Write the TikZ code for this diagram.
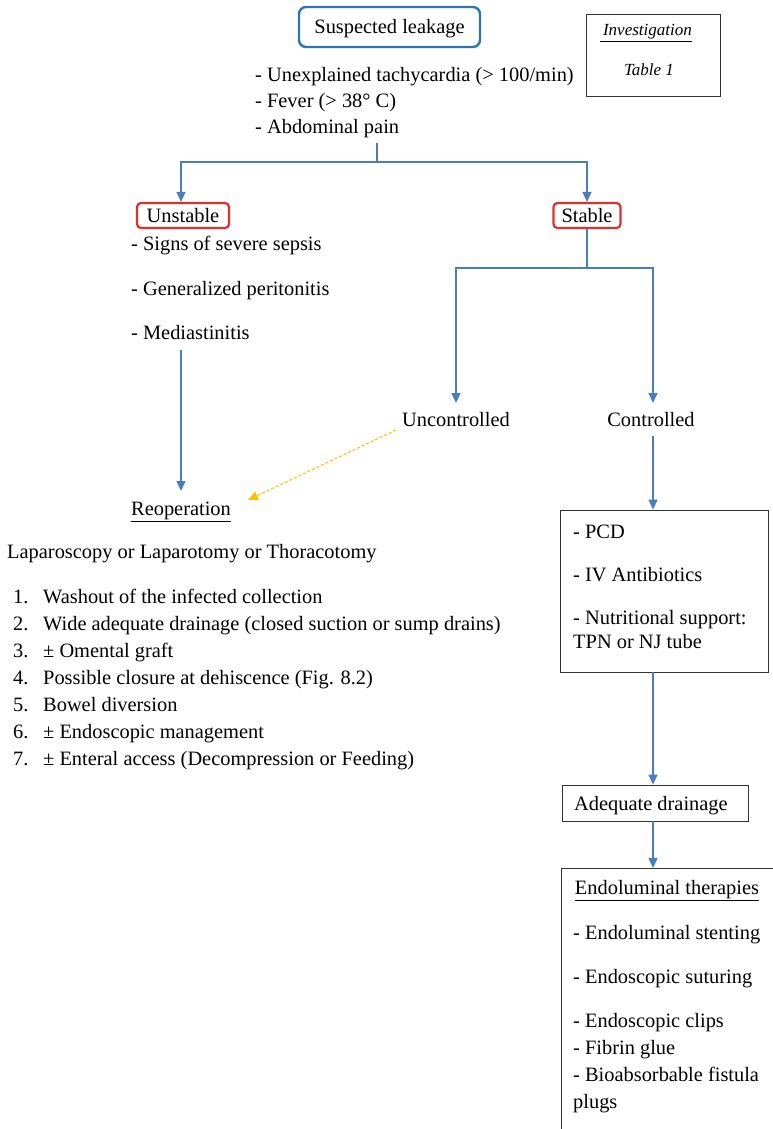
\documentclass[tikz,border=0pt]{standalone}
\usepackage{fontspec}
\setmainfont{Liberation Serif}
\usetikzlibrary{arrows.meta}
\definecolor{arrblue}{HTML}{4A7EBB}
\definecolor{boxblue}{HTML}{2E75B6}
\definecolor{boxred}{HTML}{E0302A}
\definecolor{dashorange}{HTML}{FFC000}
\tikzset{
  txt/.style={anchor=base west, inner sep=0pt, font=\fontsize{20.4}{26}\selectfont},
  ctxt/.style={anchor=base, inner sep=0pt, font=\fontsize{20.4}{26}\selectfont},
  conn/.style={draw=arrblue, line width=1.3pt},
  arr/.style={conn, -{Triangle[width=9pt,length=10pt]}},
  redbox/.style={draw=boxred, line width=2.2pt, rounded corners=4pt, inner sep=0pt},
  plainbox/.style={draw=black!80, line width=0.8pt, inner sep=0pt},
}
\begin{document}
\begin{tikzpicture}[x=1pt,y=-1pt]
\useasboundingbox (0,0) rectangle (772,1129);
% top
\node[draw=boxblue, line width=2.4pt, rounded corners=7pt, minimum width=181pt, minimum height=40pt, inner sep=0pt] (susp) at (389.5,27) {};
\node[ctxt] (susptxt) at (389.5,34) {Suspected leakage};
\node[plainbox, minimum width=134pt, minimum height=82pt] (inv) at (653,55) {};
\node[ctxt, font=\fontsize{17}{20}\selectfont\itshape] (invt) at (646,36) {\underline{\,Investigation}};
\node[ctxt, font=\fontsize{17}{20}\selectfont\itshape] (tab) at (649,76) {Table 1};
\node[txt] (s1) at (255,82) {- Unexplained tachycardia (> 100/min)};
\node[txt] (s2) at (255,108) {- Fever (> 38° C)};
\node[txt] (s3) at (255,134) {- Abdominal pain};
\coordinate (symb) at (377,143);
\coordinate (split) at (377,162);
\coordinate (colL) at (181,0);
\coordinate (colR) at (653,0);
% unstable / stable
\node[redbox, minimum width=92pt, minimum height=25pt] (unst) at (183,215.5) {};
\node[ctxt] at (183,222.5) {Unstable};
\node[redbox, minimum width=67pt, minimum height=25pt] (stab) at (587,215.5) {};
\node[ctxt] at (587,222.5) {Stable};
\draw[conn] (symb) -- (split);
\draw[arr] (split) -| (colL |- unst.north);
\draw[arr] (split) -| (stab.north);
\node[txt] (u1) at (131,250) {- Signs of severe sepsis};
\node[txt] (u2) at (131,295) {- Generalized peritonitis};
\node[txt] (u3) at (131,339) {- Mediastinitis};
\coordinate (u3b) at (181,350);
% stable split
\coordinate (ssplit) at (587,268);
\node[ctxt] (unc) at (456,426) {Uncontrolled};
\node[ctxt] (con) at (651,426) {Controlled};
\draw[conn] (stab.south) -- (ssplit);
\draw[arr] (ssplit) -| (456,403);
\draw[arr] (ssplit) -| (653,403);
% reoperation
\node[ctxt] (reop) at (181,515) {\underline{Reoperation}};
\draw[arr] (u3b) -- (181,491);
\draw[draw=dashorange, line width=1.1pt, dash pattern=on 3pt off 2pt, -{Triangle[width=9pt,length=10pt]}] (396,430) -- (248,500);
\node[txt] (lap) at (7,558) {Laparoscopy or Laparotomy or Thoracotomy};
\foreach \n/\t [count=\i] in {1/Washout of the infected collection,
  2/Wide adequate drainage (closed suction or sump drains),
  3/± Omental graft,
  4/Possible closure at dehiscence (Fig. 8.2),
  5/Bowel diversion,
  6/± Endoscopic management,
  7/± Enteral access (Decompression or Feeding)} {
  \node[txt] (n\n) at (13,{576+27*\i}) {\n.};
  \node[txt] (t\n) at (43,{576+27*\i}) {\t};
}
% controlled branch
\node[plainbox, minimum width=208pt, minimum height=162pt] (pcd) at (664,591) {};
\node[txt] at (573,538) {- PCD};
\node[txt] at (573,581) {- IV Antibiotics};
\node[txt] at (573,624) {- Nutritional support:};
\node[txt] at (573,648) {TPN or NJ tube};
\coordinate (conb) at (653,436);
\draw[arr] (conb) -- (colR |- pcd.north);
\node[plainbox, minimum width=186pt, minimum height=36pt] (ade) at (655,803) {};
\node[txt] at (574,810) {Adequate drainage};
\draw[arr] (colR |- pcd.south) -- (colR |- ade.north);
\node[plainbox, anchor=north west, minimum width=240pt, minimum height=300pt] (endo) at (561,868) {};
\draw[arr] (colR |- ade.south) -- (colR |- endo.north);
\node[ctxt] at (667,894) {\underline{Endoluminal therapies}};
\node[txt] at (573,939) {- Endoluminal stenting};
\node[txt] at (573,983) {- Endoscopic suturing};
\node[txt] at (573,1027) {- Endoscopic clips};
\node[txt] at (573,1054) {- Fibrin glue};
\node[txt] at (573,1081) {- Bioabsorbable fistula};
\node[txt] at (573,1108) {plugs};
\end{tikzpicture}
\end{document}
